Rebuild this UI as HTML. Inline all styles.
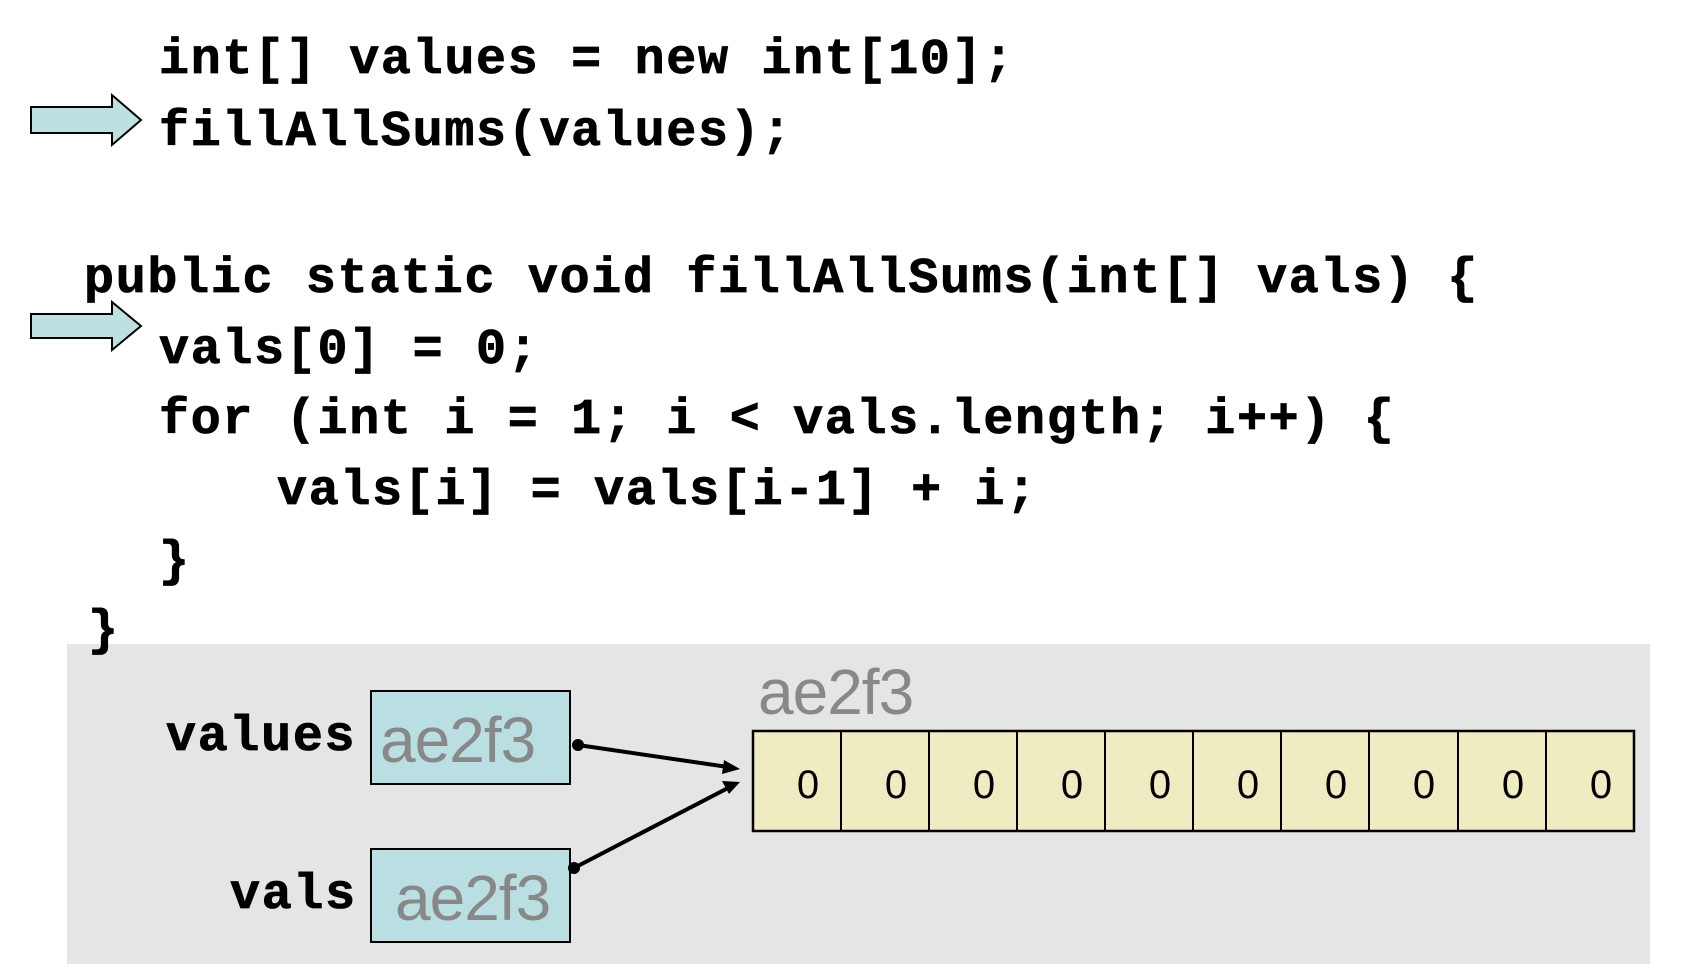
<!DOCTYPE html>
<html><head><style>
body{margin:0;width:1684px;height:976px;background:#fff;position:relative;overflow:hidden}
.c{position:absolute;font-family:"Liberation Mono",monospace;font-weight:bold;font-size:50px;letter-spacing:1.7px;color:#000;white-space:pre;line-height:1;-webkit-text-stroke:0.8px #000}
.h{position:absolute;font-family:"Liberation Sans",sans-serif;color:#888;font-size:64px;line-height:1;letter-spacing:-1px}
</style></head><body>
<div style="position:absolute;left:67px;top:644px;width:1583px;height:320px;background:#e5e5e5"></div>
<div class="c" style="left:159px;top:36px">int[] values = new int[10];</div>
<div class="c" style="left:159px;top:108px">fillAllSums(values);</div>
<div class="c" style="left:84px;top:255px">public static void fillAllSums(int[] vals) {</div>
<div class="c" style="left:159px;top:326px">vals[0] = 0;</div>
<div class="c" style="left:159px;top:396px">for (int i = 1; i &lt; vals.length; i++) {</div>
<div class="c" style="left:277px;top:467px">vals[i] = vals[i-1] + i;</div>
<div class="c" style="left:159px;top:538px">}</div>
<div class="c" style="left:88px;top:607px">}</div>
<div class="c" style="left:166px;top:713px">values</div>
<div class="c" style="left:230px;top:871px">vals</div>
<svg width="1684" height="976" style="position:absolute;left:0;top:0">
<polygon points="31,107 112,107 112,95 141,120 112,145 112,133 31,133" fill="#bde0e0" stroke="#000" stroke-width="2"/>
<polygon points="31,314 112,314 112,302 141,326 112,350 112,338 31,338" fill="#bde0e0" stroke="#000" stroke-width="2"/>
<rect x="371" y="691" width="199" height="93" fill="#b9dfe2" stroke="#000" stroke-width="2"/>
<rect x="371" y="849" width="199" height="93" fill="#b9dfe2" stroke="#000" stroke-width="2"/>
<rect x="753" y="731" width="881" height="100" fill="#efecc2" stroke="#000" stroke-width="2.5"/>
<g stroke="#000" stroke-width="2">
<line x1="841" y1="731" x2="841" y2="831"/><line x1="929" y1="731" x2="929" y2="831"/><line x1="1017" y1="731" x2="1017" y2="831"/><line x1="1105" y1="731" x2="1105" y2="831"/><line x1="1193" y1="731" x2="1193" y2="831"/><line x1="1281" y1="731" x2="1281" y2="831"/><line x1="1369" y1="731" x2="1369" y2="831"/><line x1="1458" y1="731" x2="1458" y2="831"/><line x1="1546" y1="731" x2="1546" y2="831"/>
</g>
<g font-family="Liberation Sans,sans-serif" font-size="40" text-anchor="middle" fill="#000">
<text x="808" y="798">0</text><text x="896" y="798">0</text><text x="984" y="798">0</text><text x="1072" y="798">0</text><text x="1160" y="798">0</text><text x="1248" y="798">0</text><text x="1336" y="798">0</text><text x="1424" y="798">0</text><text x="1513" y="798">0</text><text x="1601" y="798">0</text>
</g>
<g stroke="#000" stroke-width="4">
<line x1="578" y1="745" x2="728" y2="767"/>
<line x1="574" y1="868" x2="728" y2="788"/>
</g>
<circle cx="578" cy="745" r="6"/><circle cx="574" cy="868" r="6"/>
<polygon points="740,769 724,760 722,774"/>
<polygon points="740,782 722,781 729,794"/>
</svg>
<div class="h" style="left:380px;top:708px">ae2f3</div>
<div class="h" style="left:395px;top:866px">ae2f3</div>
<div class="h" style="left:758px;top:660px">ae2f3</div>
</body></html>
